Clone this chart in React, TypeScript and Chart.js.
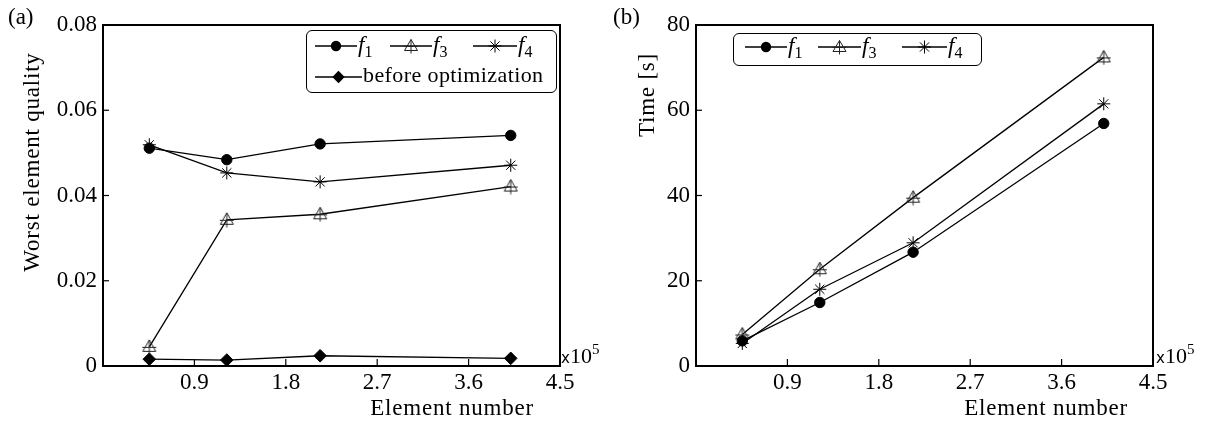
import React, { useEffect, useRef } from 'react';
import { Chart, registerables } from 'chart.js';

Chart.register(...registerables);

// ---- data ----
const elementNumbers = [0.456, 1.219, 2.138, 4.015]; // x10^5
const qualityF1 = [0.0511, 0.0484, 0.0521, 0.0541];
const qualityF3 = [0.0045, 0.0343, 0.0356, 0.0421];
const qualityF4 = [0.0519, 0.0453, 0.0432, 0.0471];
const qualityBefore = [0.0016, 0.0014, 0.0024, 0.0018];
const timeF1 = [5.9, 14.9, 26.7, 56.9];
const timeF3 = [7.4, 22.7, 39.5, 72.4];
const timeF4 = [5.3, 18.0, 28.9, 61.5];

const xTickValues = [0.9, 1.8, 2.7, 3.6, 4.5];
const xTickLabels = ['0.9', '1.8', '2.7', '3.6', '4.5'];
const qualityTickValues = [0, 0.02, 0.04, 0.06, 0.08];
const qualityTickLabels = ['0', '0.02', '0.04', '0.06', '0.08'];
const timeTickValues = [0, 20, 40, 60, 80];
const timeTickLabels = ['0', '20', '40', '60', '80'];

const SERIF = "'Liberation Serif', 'Times New Roman', serif";
const SANS = "'DejaVu Sans', 'Liberation Sans', sans-serif";

type Kind = 'circle' | 'triangle' | 'star' | 'diamond';
type Series = { label: string; values: number[]; kind: Kind };

const qualitySeries: Series[] = [
  { label: 'f1', values: qualityF1, kind: 'circle' },
  { label: 'f3', values: qualityF3, kind: 'triangle' },
  { label: 'f4', values: qualityF4, kind: 'star' },
  { label: 'before optimization', values: qualityBefore, kind: 'diamond' },
];
const timeSeries: Series[] = [
  { label: 'f1', values: timeF1, kind: 'circle' },
  { label: 'f3', values: timeF3, kind: 'triangle' },
  { label: 'f4', values: timeF4, kind: 'star' },
];

function makeTriangleMarker(): HTMLCanvasElement {
  const c = document.createElement('canvas');
  c.width = 16;
  c.height = 16;
  const g = c.getContext('2d')!;
  g.strokeStyle = '#222';
  g.lineWidth = 1;
  g.beginPath();
  g.moveTo(8, 1);
  g.lineTo(14.5, 12.5);
  g.lineTo(1.5, 12.5);
  g.closePath();
  g.stroke();
  g.beginPath();
  g.moveTo(8, 1);
  g.lineTo(8, 15.5);
  g.moveTo(1, 8.5);
  g.lineTo(15, 8.5);
  g.stroke();
  return c;
}

const framePlugin = {
  id: 'frame',
  afterDraw(chart: any, _args: any, opts: any) {
    const { ctx, chartArea, scales } = chart;
    const { left, right, top, bottom } = chartArea;
    ctx.save();
    ctx.strokeStyle = '#000';
    ctx.lineWidth = 1.2;
    (opts.xTicks || []).forEach((v: number) => {
      const px = scales.x.getPixelForValue(v);
      ctx.beginPath();
      ctx.moveTo(px, bottom);
      ctx.lineTo(px, bottom - 7);
      ctx.stroke();
    });
    (opts.yTicks || []).forEach((v: number) => {
      const py = scales.y.getPixelForValue(v);
      ctx.beginPath();
      ctx.moveTo(left, py);
      ctx.lineTo(left + 6, py);
      ctx.stroke();
    });
    ctx.lineWidth = 2;
    ctx.strokeRect(left, top, right - left, bottom - top);
    ctx.restore();
  },
};

type PanelProps = {
  left: number;
  width: number;
  plotLeft: number;
  plotRight: number;
  yMax: number;
  yTicks: number[];
  yLabels: string[];
  series: Series[];
};

function Panel({ left, width, plotLeft, plotRight, yMax, yTicks, yLabels, series }: PanelProps) {
  const ref = useRef<HTMLCanvasElement>(null);
  useEffect(() => {
    const tri = makeTriangleMarker();
    const styleFor = (k: Kind) => {
      if (k === 'circle') return { pointStyle: 'circle', pointRadius: 5.2, pointBackgroundColor: '#000' };
      if (k === 'diamond') return { pointStyle: 'rectRot', pointRadius: 6.3, pointBackgroundColor: '#000' };
      if (k === 'star') return { pointStyle: 'star', pointRadius: 6.5, pointBackgroundColor: '#000' };
      return { pointStyle: tri, pointRadius: 7, pointBackgroundColor: 'rgba(0,0,0,0)' };
    };
    const chart = new Chart(ref.current!, {
      type: 'line',
      data: {
        datasets: series.map((s) => ({
          label: s.label,
          data: elementNumbers.map((x, i) => ({ x, y: s.values[i] })),
          borderColor: '#000',
          borderWidth: 1.3,
          pointBorderColor: '#000',
          pointBorderWidth: 1,
          tension: 0,
          fill: false,
          ...styleFor(s.kind),
        })) as any,
      },
      options: {
        responsive: false,
        animation: false,
        layout: { padding: { top: 25, right: width - plotRight, left: 0, bottom: 0 } },
        plugins: {
          legend: { display: false },
          tooltip: { enabled: false },
          frame: { xTicks: xTickValues, yTicks: yTicks },
        } as any,
        scales: {
          x: {
            type: 'linear',
            min: 0,
            max: 4.5,
            afterFit: (s: any) => {
              s.height = 57;
            },
            afterBuildTicks: (s: any) => {
              s.ticks = xTickValues.map((v) => ({ value: v }));
            },
            ticks: {
              callback: (_v: any, i: number) => xTickLabels[i],
              font: { family: SERIF, size: 23 },
              color: '#000',
              padding: 3,
              maxRotation: 0,
              autoSkip: false,
            },
            grid: { display: false, drawTicks: false },
            border: { display: false },
          },
          y: {
            type: 'linear',
            min: 0,
            max: yMax,
            afterFit: (s: any) => {
              s.width = plotLeft;
            },
            afterBuildTicks: (s: any) => {
              s.ticks = yTicks.map((v) => ({ value: v }));
            },
            ticks: {
              callback: (_v: any, i: number) => yLabels[i],
              font: { family: SERIF, size: 23 },
              color: '#000',
              padding: 6,
              autoSkip: false,
            },
            grid: { display: false, drawTicks: false },
            border: { display: false },
          },
        },
      } as any,
      plugins: [framePlugin as any],
    });
    return () => chart.destroy();
  }, []);
  return (
    <canvas
      ref={ref}
      width={width}
      height={423}
      style={{ position: 'absolute', left, top: 0, width, height: 423, display: 'block' }}
    />
  );
}

function LegendIcon({ kind, w }: { kind: Kind; w: number }) {
  const c = w / 2;
  return (
    <svg width={w} height={16} style={{ position: 'absolute', left: 0, top: 0 }}>
      <line x1={0} y1={8} x2={w} y2={8} stroke="#000" strokeWidth={1.3} />
      {kind === 'circle' && <circle cx={c} cy={8} r={5.2} fill="#000" />}
      {kind === 'diamond' && <polygon points={`${c},1.8 ${c + 6.2},8 ${c},14.2 ${c - 6.2},8`} fill="#000" />}
      {kind === 'triangle' && (
        <g stroke="#222" strokeWidth={1} fill="none">
          <polygon points={`${c},1.5 ${c + 6.5},12.5 ${c - 6.5},12.5`} />
          <line x1={c} y1={1.5} x2={c} y2={15.5} />
          <line x1={c - 7} y1={8.5} x2={c + 7} y2={8.5} />
        </g>
      )}
      {kind === 'star' && (
        <g stroke="#000" strokeWidth={1}>
          <line x1={c - 6.5} y1={8} x2={c + 6.5} y2={8} />
          <line x1={c} y1={1.5} x2={c} y2={14.5} />
          <line x1={c - 4.6} y1={3.4} x2={c + 4.6} y2={12.6} />
          <line x1={c - 4.6} y1={12.6} x2={c + 4.6} y2={3.4} />
        </g>
      )}
    </svg>
  );
}

function LegendLabel({ text }: { text: string }) {
  const m = /^f(\d)$/.exec(text);
  if (m) {
    return (
      <span style={{ fontFamily: SERIF, fontSize: 23, lineHeight: 1, whiteSpace: 'nowrap' }}>
        <i>f</i>
        <span style={{ fontSize: 16, position: 'relative', top: 5 }}>{m[1]}</span>
      </span>
    );
  }
  return (
    <span style={{ fontFamily: SERIF, fontSize: 22, lineHeight: 1, letterSpacing: 0.4, whiteSpace: 'nowrap' }}>
      {text}
    </span>
  );
}

type LegendPos = { x: number; row: number; w: number };

function Legend({
  left,
  top,
  width,
  height,
  series,
  pos,
  rowY,
}: {
  left: number;
  top: number;
  width: number;
  height: number;
  series: Series[];
  pos: LegendPos[];
  rowY: number[];
}) {
  return (
    <div
      style={{
        position: 'absolute',
        left,
        top,
        width,
        height,
        boxSizing: 'border-box',
        border: '1.5px solid #000',
        borderRadius: 6,
        background: '#fff',
      }}
    >
      {series.map((s, i) => {
        const p = pos[i];
        return (
          <div key={s.label} style={{ position: 'absolute', left: p.x, top: rowY[p.row] - 8, height: 16 }}>
            <LegendIcon kind={s.kind} w={p.w} />
            <div style={{ position: 'absolute', left: p.w + 1, top: -5 }}>
              <LegendLabel text={s.label} />
            </div>
          </div>
        );
      })}
    </div>
  );
}

const textBase: React.CSSProperties = {
  position: 'absolute',
  fontFamily: SERIF,
  lineHeight: 1,
  whiteSpace: 'nowrap',
  color: '#000',
};

function Exponent({ left }: { left: number }) {
  return (
    <div style={{ ...textBase, left, top: 345, fontSize: 22 }}>
      <span style={{ fontFamily: SANS, fontSize: 15 }}>x</span>10
      <span style={{ fontSize: 15, position: 'relative', top: -9 }}>5</span>
    </div>
  );
}

export default function App() {
  return (
    <div style={{ position: 'absolute', left: 0, top: 0, width: 1210, height: 423, background: '#fff', overflow: 'hidden' }}>
      <Panel
        left={0}
        width={605}
        plotLeft={103}
        plotRight={560}
        yMax={0.08}
        yTicks={qualityTickValues}
        yLabels={qualityTickLabels}
        series={qualitySeries}
      />
      <Panel
        left={605}
        width={605}
        plotLeft={91}
        plotRight={548}
        yMax={80}
        yTicks={timeTickValues}
        yLabels={timeTickLabels}
        series={timeSeries}
      />

      <Legend
        left={306}
        top={30}
        width={251}
        height={63}
        series={qualitySeries}
        pos={[
          { x: 8, row: 0, w: 42 },
          { x: 83, row: 0, w: 42 },
          { x: 166, row: 0, w: 44 },
          { x: 8, row: 1, w: 47 },
        ]}
        rowY={[15, 46]}
      />
      <Legend
        left={733}
        top={33}
        width={249}
        height={33}
        series={timeSeries}
        pos={[
          { x: 11, row: 0, w: 42 },
          { x: 84, row: 0, w: 43 },
          { x: 168, row: 0, w: 45 },
        ]}
        rowY={[13]}
      />

      <div style={{ ...textBase, left: 8, top: 5, fontSize: 23 }}>(a)</div>
      <div style={{ ...textBase, left: 613, top: 5, fontSize: 23 }}>(b)</div>

      <div
        style={{
          ...textBase,
          left: 31,
          top: 162,
          fontSize: 23,
          letterSpacing: 0.8,
          transform: 'translate(-50%, -50%) rotate(-90deg)',
        }}
      >
        Worst element quality
      </div>
      <div
        style={{
          ...textBase,
          left: 646,
          top: 95,
          fontSize: 23,
          letterSpacing: 0.8,
          transform: 'translate(-50%, -50%) rotate(-90deg)',
        }}
      >
        Time [s]
      </div>

      <div style={{ ...textBase, left: 534, top: 396, fontSize: 23, letterSpacing: 0.8, transform: 'translateX(-100%)' }}>
        Element number
      </div>
      <div style={{ ...textBase, left: 1128, top: 396, fontSize: 23, letterSpacing: 0.8, transform: 'translateX(-100%)' }}>
        Element number
      </div>

      <Exponent left={561} />
      <Exponent left={1156} />
    </div>
  );
}
